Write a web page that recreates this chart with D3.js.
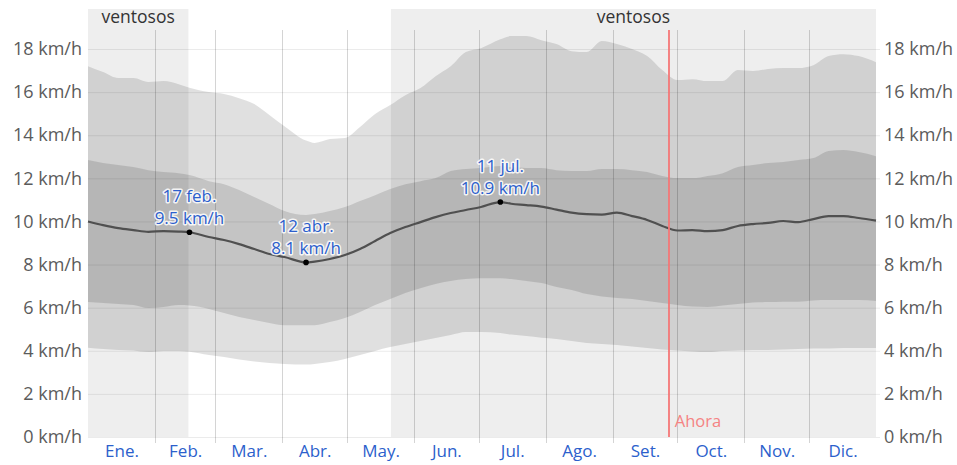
<!DOCTYPE html>
<html>
<head>
<meta charset="utf-8">
<script src="https://cdn.jsdelivr.net/npm/d3@7"></script>
<style>
  html, body { margin: 0; padding: 0; background: #fff; }
  svg { display: block; font-family: "Open Sans", "Noto Sans", sans-serif; }
</style>
</head>
<body>
<svg id="chart" width="957" height="465"></svg>
<script>
// Day of year (0 = 1 Jan) for each sample
const days = [0, 7, 14, 21, 28, 35, 42, 47, 56, 63, 70, 77, 84, 91, 101, 105, 112, 119, 126, 133,
  140, 147, 154, 161, 168, 175, 182, 191, 196, 203, 210, 217, 224, 231, 238, 245, 252, 259, 266,
  273, 280, 287, 294, 301, 308, 315, 322, 329, 336, 343, 350, 357, 365];

// Wind speed percentiles and mean, km/h
const p90 = [17.2, 16.93, 16.65, 16.65, 16.47, 16.51, 16.37, 16.2, 16.0, 15.91, 15.72, 15.45, 14.94, 14.42,
  13.75, 13.64, 13.82, 13.87, 14.38, 14.98, 15.4, 15.86, 16.19, 16.74, 17.2, 17.86, 18.04, 18.45, 18.6,
  18.6, 18.41, 18.23, 17.9, 17.86, 18.37, 18.23, 18.0, 17.67, 17.02, 16.56, 16.6, 16.51, 16.51, 17.02,
  16.98, 17.07, 17.12, 17.12, 17.25, 17.67, 17.76, 17.67, 17.39];
const p75 = [12.85, 12.71, 12.62, 12.52, 12.38, 12.29, 12.24, 12.15, 11.87, 11.73, 11.46, 11.13, 10.81, 10.48,
  10.3, 10.34, 10.48, 10.67, 10.95, 11.22, 11.5, 11.73, 11.87, 12.01, 12.34, 12.43, 12.48, 12.57, 12.52,
  12.48, 12.48, 12.38, 12.34, 12.34, 12.43, 12.43, 12.38, 12.29, 12.11, 12.01, 12.01, 12.11, 12.24, 12.52,
  12.62, 12.71, 12.76, 12.85, 12.94, 13.27, 13.31, 13.22, 13.03];
const avg = [10.0, 9.83, 9.69, 9.6, 9.52, 9.55, 9.53, 9.5, 9.28, 9.14, 8.95, 8.72, 8.49, 8.35,
  8.1, 8.14, 8.26, 8.44, 8.72, 9.09, 9.46, 9.74, 9.97, 10.2, 10.39, 10.53, 10.67, 10.9, 10.82,
  10.76, 10.69, 10.55, 10.41, 10.34, 10.32, 10.41, 10.25, 10.07, 9.79, 9.58, 9.6, 9.55, 9.6, 9.79,
  9.88, 9.93, 10.02, 9.97, 10.11, 10.25, 10.25, 10.16, 10.04];
const p25 = [6.26, 6.22, 6.17, 6.12, 5.98, 6.03, 6.12, 6.1, 5.94, 5.75, 5.57, 5.43, 5.29, 5.19,
  5.19, 5.19, 5.33, 5.52, 5.8, 6.12, 6.4, 6.68, 6.9, 7.1, 7.24, 7.33, 7.37, 7.37, 7.33,
  7.24, 7.14, 6.96, 6.82, 6.63, 6.52, 6.45, 6.4, 6.31, 6.22, 6.12, 6.05, 6.03, 6.1, 6.17,
  6.24, 6.26, 6.28, 6.28, 6.33, 6.35, 6.35, 6.35, 6.31];
const p10 = [4.14, 4.08, 4.04, 4.01, 3.94, 3.99, 3.99, 3.96, 3.8, 3.71, 3.59, 3.5, 3.43, 3.39,
  3.36, 3.39, 3.48, 3.62, 3.8, 3.99, 4.17, 4.31, 4.45, 4.59, 4.73, 4.87, 4.87, 4.82, 4.75,
  4.68, 4.61, 4.55, 4.45, 4.36, 4.31, 4.27, 4.2, 4.13, 4.06, 4.01, 3.97, 3.94, 3.99, 4.01,
  4.04, 4.04, 4.06, 4.08, 4.1, 4.1, 4.13, 4.13, 4.13];

const monthStarts = [0, 31, 59, 90, 120, 151, 181, 212, 243, 273, 304, 334, 365];
const monthLabels = ["Ene.", "Feb.", "Mar.", "Abr.", "May.", "Jun.", "Jul.", "Ago.", "Set.", "Oct.", "Nov.", "Dic."];
const yTicks = [0, 2, 4, 6, 8, 10, 12, 14, 16, 18];

// Windy season spans (day of year)
const windyPeriods = [[0, 46.5], [140.3, 365]];
const windyLabel = "ventosos";

// Highlighted days on the mean curve
const highlightDays = [47, 101, 191];
const highlightDates = ["17 feb.", "12 abr.", "11 jul."];

const todayDay = 269;
const todayLabel = "Ahora";

const svg = d3.select("#chart");
const plot = { left: 88, right: 876, top: 9, bottom: 437, gridTop: 30 };

const x = d3.scaleLinear().domain([0, 365]).range([plot.left, plot.right]);
const y = d3.scaleLinear().domain([0, 18]).range([plot.bottom, 49]);

const rows = days.map((d, i) => ({ day: d, p90: p90[i], p75: p75[i], avg: avg[i], p25: p25[i], p10: p10[i] }));

// Windy season backgrounds
svg.append("g").selectAll("rect").data(windyPeriods).join("rect")
  .attr("x", d => x(d[0]))
  .attr("width", d => x(d[1]) - x(d[0]))
  .attr("y", plot.top)
  .attr("height", plot.bottom - plot.top)
  .attr("fill", "#eeeeee");

svg.append("g").selectAll("text").data(windyPeriods).join("text")
  .attr("x", d => (x(d[0]) + x(d[1])) / 2)
  .attr("y", 23)
  .attr("text-anchor", "middle")
  .attr("font-size", 17.5)
  .attr("fill", "#333")
  .text(windyLabel);

// Percentile bands
const band = (lo, hi) => d3.area()
  .x(d => x(d.day))
  .y0(d => y(d[lo]))
  .y1(d => y(d[hi]))
  .curve(d3.curveMonotoneX);

svg.append("path").datum(rows)
  .attr("d", band("p10", "p90"))
  .attr("fill", "rgba(0,0,0,0.12)");
svg.append("path").datum(rows)
  .attr("d", band("p25", "p75"))
  .attr("fill", "rgba(0,0,0,0.125)");

// Horizontal grid
svg.append("g").selectAll("line").data(yTicks).join("line")
  .attr("x1", plot.left).attr("x2", plot.right + 4)
  .attr("y1", d => y(d) + 0.5).attr("y2", d => y(d) + 0.5)
  .attr("stroke", "rgba(0,0,0,0.08)");

// Month boundaries
svg.append("g").selectAll("line").data(monthStarts.slice(1, 12)).join("line")
  .attr("x1", d => Math.round(x(d)) + 0.5).attr("x2", d => Math.round(x(d)) + 0.5)
  .attr("y1", plot.gridTop).attr("y2", plot.bottom + 6)
  .attr("stroke", "rgba(0,0,0,0.17)");

// Mean line
svg.append("path").datum(rows)
  .attr("d", d3.line().x(d => x(d.day)).y(d => y(d.avg)).curve(d3.curveMonotoneX))
  .attr("fill", "none")
  .attr("stroke", "#505050")
  .attr("stroke-width", 2.2);

// Current day marker
svg.append("line")
  .attr("x1", Math.round(x(todayDay))).attr("x2", Math.round(x(todayDay)))
  .attr("y1", plot.gridTop).attr("y2", plot.bottom)
  .attr("stroke", "#f47676").attr("stroke-width", 1.8);
svg.append("text")
  .attr("x", x(todayDay) + 6).attr("y", 427)
  .attr("font-size", 16.5)
  .attr("fill", "#f58383")
  .text(todayLabel);

// Y axes
const fmt = d => d + " km/h";
const yLeft = svg.append("g").attr("transform", `translate(${plot.left},0)`)
  .call(d3.axisLeft(y).tickValues(yTicks).tickFormat(fmt).tickSize(0).tickPadding(6));
const yRight = svg.append("g").attr("transform", `translate(${plot.right},0)`)
  .call(d3.axisRight(y).tickValues(yTicks).tickFormat(fmt).tickSize(0).tickPadding(8));
[yLeft, yRight].forEach(g => {
  g.select(".domain").remove();
  g.selectAll("text").attr("font-size", 18).attr("fill", "#5b5b5b").attr("font-family", "Open Sans, sans-serif");
});

// Month labels at mid-month
const mids = monthLabels.map((m, i) => (monthStarts[i] + monthStarts[i + 1]) / 2);
const xAxis = svg.append("g").attr("transform", `translate(0,${plot.bottom})`)
  .call(d3.axisBottom(x).tickValues(mids).tickFormat((d, i) => monthLabels[i]).tickSize(0).tickPadding(8));
xAxis.select(".domain").remove();
xAxis.selectAll("text").attr("font-size", 17).attr("fill", "#2c5fcc").attr("font-family", "Open Sans, sans-serif");

// Highlighted points with labels
const hl = highlightDays.map((d, k) => ({ day: d, value: avg[days.indexOf(d)], date: highlightDates[k] }));
const hg = svg.append("g");
hg.selectAll("circle").data(hl).join("circle")
  .attr("cx", d => x(d.day)).attr("cy", d => y(d.value)).attr("r", 2.8)
  .attr("fill", "#000");
const lbl = hg.selectAll("g.lbl").data(hl).join("g").attr("class", "lbl");
lbl.append("text")
  .attr("x", d => x(d.day)).attr("y", d => y(d.value) - 30)
  .text(d => d.date);
lbl.append("text")
  .attr("x", d => x(d.day)).attr("y", d => y(d.value) - 8)
  .text(d => d.value.toFixed(1) + " km/h");
lbl.selectAll("text")
  .attr("text-anchor", "middle")
  .attr("font-size", 17)
  .attr("fill", "#2c5fcc")
  .attr("stroke", "rgba(255,255,255,0.85)")
  .attr("stroke-width", 3)
  .attr("paint-order", "stroke")
  .attr("stroke-linejoin", "round");
</script>
</body>
</html>
